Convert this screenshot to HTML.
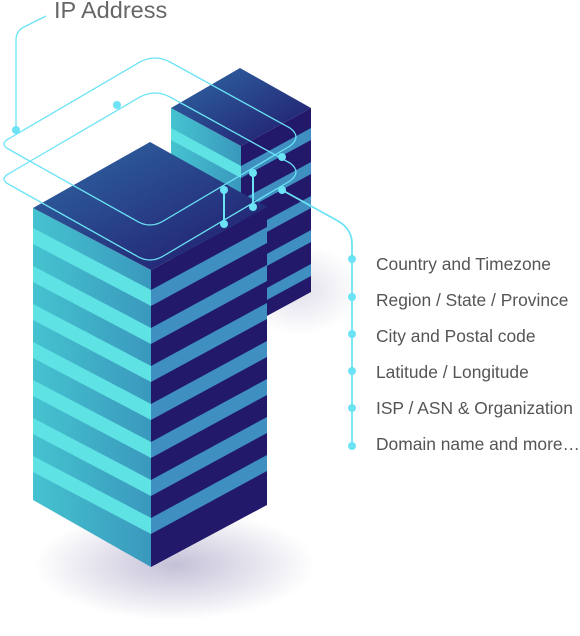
<!DOCTYPE html>
<html><head><meta charset="utf-8"><style>
html,body{margin:0;padding:0;background:#fff;width:580px;height:636px;overflow:hidden}
svg{display:block}
text{font-family:"Liberation Sans",sans-serif;fill:#555}
</style></head><body>
<svg width="580" height="636" viewBox="0 0 580 636" xmlns="http://www.w3.org/2000/svg">
<defs>
<radialGradient id="sh" cx="50%" cy="50%" r="50%">
<stop offset="0" stop-color="#3a2f7a" stop-opacity="0.3"/>
<stop offset="1" stop-color="#3a2f7a" stop-opacity="0"/>
</radialGradient>
<linearGradient id="top" x1="0" y1="0" x2="1" y2="1">
<stop offset="0" stop-color="#2f6aa6"/><stop offset="1" stop-color="#21176a"/>
</linearGradient>
<linearGradient id="lf" x1="0" y1="0" x2="1" y2="0">
<stop offset="0" stop-color="#45c3d0"/><stop offset="1" stop-color="#3a98bd"/>
</linearGradient>
</defs>
<ellipse cx="175" cy="565" rx="140" ry="55" fill="url(#sh)"/>
<ellipse cx="300" cy="290" rx="60" ry="45" fill="url(#sh)" opacity="0.5"/>

<!-- back tower -->
<polygon points="171,108 241,146 241,330 171,292" fill="url(#lf)"/>
<polygon points="241,146 311,108 311,292 241,330" fill="#22196b"/>
<g>
<polygon points="171,128 241,166 241,178 171,140" fill="#5fe2e4"/>
<polygon points="241,166 311,128 311,140 241,178" fill="#3f8fc0"/>
<polygon points="171,162 241,200 241,212 171,174" fill="#5fe2e4"/>
<polygon points="241,200 311,162 311,174 241,212" fill="#3f8fc0"/>
<polygon points="241,234 311,196 311,208 241,246" fill="#3f8fc0"/>
<polygon points="241,268 311,230 311,242 241,280" fill="#3f8fc0"/>
<polygon points="241,302 311,264 311,276 241,314" fill="#3f8fc0"/>
</g>
<polygon points="240,68 311,108 241,146 171,108" fill="url(#top)"/>

<!-- front tower -->
<polygon points="33,208 151,270 151,567 33,500" fill="url(#lf)"/>
<polygon points="151,270 267,207 267,505 151,567" fill="#22196b"/>
<g>
<polygon points="33,228 151,290 151,306 33,244" fill="#5fe2e4"/>
<polygon points="151,290 267,227 267,243 151,306" fill="#3f8fc0"/>
<polygon points="33,266 151,328 151,344 33,282" fill="#5fe2e4"/>
<polygon points="151,328 267,265 267,281 151,344" fill="#3f8fc0"/>
<polygon points="33,304 151,366 151,382 33,320" fill="#5fe2e4"/>
<polygon points="151,366 267,303 267,319 151,382" fill="#3f8fc0"/>
<polygon points="33,342 151,404 151,420 33,358" fill="#5fe2e4"/>
<polygon points="151,404 267,341 267,357 151,420" fill="#3f8fc0"/>
<polygon points="33,380 151,442 151,458 33,396" fill="#5fe2e4"/>
<polygon points="151,442 267,379 267,395 151,458" fill="#3f8fc0"/>
<polygon points="33,418 151,480 151,496 33,434" fill="#5fe2e4"/>
<polygon points="151,480 267,417 267,433 151,496" fill="#3f8fc0"/>
<polygon points="33,456 151,518 151,534 33,472" fill="#5fe2e4"/>
<polygon points="151,518 267,455 267,471 151,534" fill="#3f8fc0"/>
</g>
<polygon points="150,142 267,207 151,270 33,208" fill="url(#top)"/>

<!-- lines -->
<g fill="none" stroke="#6be3f5" stroke-width="1.3">
<path d="M16,130 V40 Q16,30 26,26 L46,16"/>
<path d="M10,138 L140,62 Q155,54 170,62 L290,128 Q302,137 290,146 L165,220 Q150,230 135,220 L10,150 Q-2,144 10,138 Z"/>
<path d="M10,173 L140,97 Q155,89 170,97 L290,163 Q302,172 290,181 L165,255 Q150,265 135,255 L10,185 Q-2,179 10,173 Z"/>
<path d="M224,190 V224 M253,173 V207" stroke-width="2"/>
<path d="M282,190 L338,221 Q352,229 352,244 V447" stroke-width="1.8"/>
</g>
<g fill="#6be3f5">
<circle cx="16" cy="130" r="4"/><circle cx="117" cy="105" r="4"/>
<circle cx="282" cy="157" r="4"/><circle cx="253" cy="173" r="4"/>
<circle cx="224" cy="190" r="4"/><circle cx="253" cy="207" r="4"/>
<circle cx="224" cy="224" r="4"/><circle cx="282" cy="190" r="4"/>
<circle cx="352" cy="259" r="4"/><circle cx="352" cy="297" r="4"/>
<circle cx="352" cy="334" r="4"/><circle cx="352" cy="371" r="4"/>
<circle cx="352" cy="408" r="4"/><circle cx="352" cy="446" r="4"/>
</g>
<text x="54" y="18" font-size="23.5" style="fill:#666">IP Address</text>
<g font-size="17.4">
<text x="376" y="270">Country and Timezone</text>
<text x="376" y="306">Region / State / Province</text>
<text x="376" y="342">City and Postal code</text>
<text x="376" y="378">Latitude / Longitude</text>
<text x="376" y="414">ISP / ASN &amp; Organization</text>
<text x="376" y="450">Domain name and more…</text>
</g>
</svg>
</body></html>
